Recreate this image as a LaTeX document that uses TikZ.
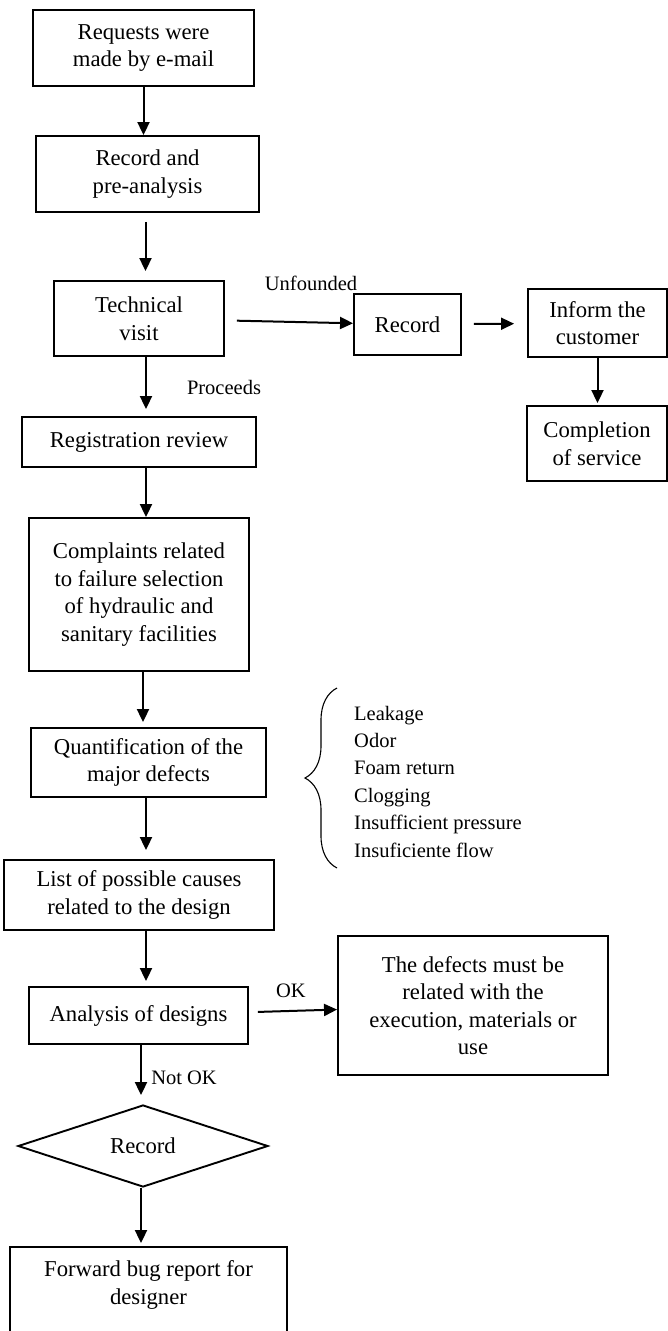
\documentclass[tikz,border=0pt]{standalone}
\usepackage{fontspec}
\setmainfont{Liberation Serif}
\usetikzlibrary{shapes.geometric, arrows.meta, decorations.pathreplacing}
\tikzset{
  >=Triangle,
  flowbox/.style={draw, rectangle, line width=1.9pt, align=center, inner sep=0pt, font=\fontsize{22.7}{27.5}\selectfont},
  flowdiamond/.style={draw, diamond, aspect=3, line width=1.9pt, inner sep=0pt, font=\fontsize{22.7}{27.5}\selectfont},
  flowlabel/.style={inner sep=0pt, font=\fontsize{20.5}{27.4}\selectfont},
  flowarrow/.style={-{Triangle[length=13pt, width=12pt]}, line width=2pt},
  defectbrace/.style={decorate, decoration={brace, amplitude=32pt}, line width=1.1pt}
}
\begin{document}
\begin{tikzpicture}[x=1pt, y=-1pt]
    \useasboundingbox (0,0) rectangle (668,1331);

    \node (req) [flowbox, minimum width=221pt, minimum height=76pt] at (143.5,48) {Requests were\\made by e-mail};
    \node (pre) [flowbox, minimum width=223pt, minimum height=76pt] at (147.5,174) {Record and\\pre-analysis};
    \node (visit) [flowbox, minimum width=170pt, minimum height=75pt] at (139,318.5) {Technical\\visit};
    \node (rec) [flowbox, minimum width=107pt, minimum height=61pt] at (407.5,324.5) {Record};
    \node (inform) [flowbox, minimum width=139pt, minimum height=68pt] at (597.5,323) {Inform the\\customer};
    \node (done) [flowbox, minimum width=140pt, minimum height=75pt] at (597,443.5) {Completion\\of service};
    \node (review) [flowbox, minimum width=234pt, minimum height=50pt] at (139,442) {Registration review};
    \node (complaints) [flowbox, minimum width=220pt, minimum height=153pt] at (139,594.5) {Complaints related\\to failure selection\\of hydraulic and\\sanitary facilities};
    \node (quant) [flowbox, minimum width=235pt, minimum height=69pt] at (148.5,762.5) {Quantification of the\\major defects};
    \node (causes) [flowbox, minimum width=270pt, minimum height=70pt] at (139,895) {List of possible causes\\related to the design};
    \node (designs) [flowbox, minimum width=219pt, minimum height=57pt] at (138.5,1015.5) {Analysis of designs};
    \node (other) [flowbox, minimum width=270pt, minimum height=139pt] at (473,1005.5) {The defects must be\\related with the\\execution, materials or\\use};
    \node (rec2) [flowdiamond, minimum width=250pt, minimum height=82pt] at (143,1146) {Record};
    \node (fwd) [flowbox, minimum width=277pt, minimum height=108pt, text depth=37pt] at (148.5,1301) {Forward bug report for\\designer};

    \node (unfounded) [flowlabel] at (311,283) {Unfounded};
    \node (proceeds) [flowlabel] at (224,387) {Proceeds};
    \node (ok) [flowlabel] at (291,991) {OK};
    \node (notok) [flowlabel] at (184,1078) {Not OK};
    \node (types) [flowlabel, anchor=west, align=left] at (354,781.5) {Leakage\\Odor\\Foam return\\Clogging\\Insufficient pressure\\Insuficiente flow};
    \draw[defectbrace] (337,868) -- (337,688);

    \draw[flowarrow] (req.south) -- (req.south |- pre.north);
    \draw[flowarrow, shorten <=9pt, shorten >=9pt] ([xshift=-2pt]pre.south) -- ([xshift=-2pt]pre.south |- visit.north);
    \draw[flowarrow, shorten >=7pt] ([xshift=7pt]visit.south) -- ([xshift=7pt]visit.south |- review.north);
    \draw[flowarrow] ([xshift=7pt]review.south) -- ([xshift=7pt]review.south |- complaints.north);
    \draw[flowarrow, shorten >=5pt] ([xshift=4pt]complaints.south) -- ([xshift=4pt]complaints.south |- quant.north);
    \draw[flowarrow, shorten >=9pt] ([xshift=-2.5pt]quant.south) -- ([xshift=-2.5pt]quant.south |- causes.north);
    \draw[flowarrow, shorten >=5pt] ([xshift=7pt]causes.south) -- ([xshift=7pt]causes.south |- designs.north);
    \draw[flowarrow, shorten >=9pt] ([xshift=2.5pt]designs.south) -- ([xshift=2.5pt]designs.south |- rec2.north);
    \draw[flowarrow, shorten >=3pt] ([xshift=-2pt]rec2.south) -- ([xshift=-2pt]rec2.south |- fwd.north);
    \draw[flowarrow, shorten <=12pt] (visit) -- (rec);
    \draw[flowarrow, shorten <=12pt, shorten >=13pt] (rec) -- (inform);
    \draw[flowarrow, shorten >=2pt] (inform.south) -- (inform.south |- done.north);
    \draw[flowarrow, shorten <=9pt] (designs) -- (other);
\end{tikzpicture}
\end{document}
